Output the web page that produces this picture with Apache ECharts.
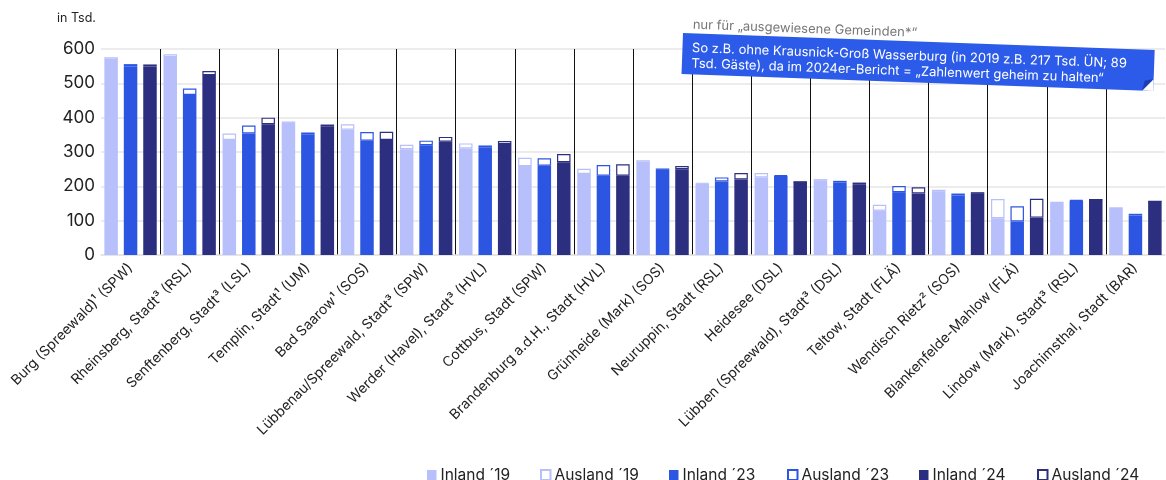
<!DOCTYPE html>
<html><head><meta charset="utf-8">
<script src="https://cdn.jsdelivr.net/npm/echarts@6/dist/echarts.min.js"></script>
<style>html,body{margin:0;padding:0;background:#fff}#c{width:1166px;height:480px}</style>
</head><body><div id="c"></div>
<script>
const categories = [
  "Burg (Spreewald)¹ (SPW)", "Rheinsberg, Stadt³ (RSL)", "Senftenberg, Stadt³ (LSL)", "Templin, Stadt¹ (UM)",
  "Bad Saarow¹ (SOS)", "Lübbenau/Spreewald, Stadt³ (SPW)", "Werder (Havel), Stadt³ (HVL)", "Cottbus, Stadt (SPW)",
  "Brandenburg a.d.H., Stadt (HVL)", "Grünheide (Mark) (SOS)", "Neuruppin, Stadt (RSL)", "Heidesee (DSL)",
  "Lübben (Spreewald), Stadt³ (DSL)", "Teltow, Stadt (FLÄ)", "Wendisch Rietz² (SOS)", "Blankenfelde-Mahlow (FLÄ)",
  "Lindow (Mark), Stadt³ (RSL)", "Joachimsthal, Stadt (BAR)"
];
const inland19  = [568, 577, 335, 385, 365, 308, 310, 259, 236, 268, 208, 226, 216, 129, 184, 107, 153, 134];
const ausland19 = [8, 8, 19, 4, 16, 13, 15, 24, 15, 8, 2, 13, 5, 17, 6, 56, 1, 5];
const inland23  = [550, 466, 354, 350, 333, 320, 314, 260, 231, 248, 214, 230, 211, 183, 173, 98, 158, 115];
const ausland23 = [6, 19, 23, 7, 25, 13, 5, 22, 31, 4, 12, 2, 5, 18, 6, 44, 2, 5];
const inland24  = [549, 524, 381, 375, 335, 330, 323, 270, 231, 250, 220, 213, 206, 179, 178, 109, 161, 156];
const ausland24 = [6, 12, 19, 5, 24, 14, 9, 24, 33, 9, 19, 0, 5, 18, 5, 55, 0, 0];
const yTicks = [0, 100, 200, 300, 400, 500, 600];
const legendNames = ['Inland ´19', 'Ausland ´19', 'Inland ´23', 'Ausland ´23', 'Inland ´24', 'Ausland ´24'];

const FONT = 'Inter, "Noto Sans", sans-serif';
const C19 = '#b8c0fc', C23 = '#2c55e2', C24 = '#2c2f80';

function inl(name, data, stack, color) {
  return { name, type: 'bar', stack, data, barWidth: 13.5, barGap: '44%',
    itemStyle: { color }, emphasis: { disabled: true } };
}
function aus(name, data, stack, color) {
  return { name, type: 'bar', stack, data, barWidth: 13.5, barGap: '44%',
    itemStyle: { color: '#ffffff', borderColor: color, borderWidth: 1.2 }, emphasis: { disabled: true } };
}

const legendLeft = [427, 540, 669, 787, 919, 1037];
const legends = legendNames.map((n, i) => ({
  left: legendLeft[i], top: 467, padding: 0, itemWidth: 9.5, itemHeight: 10, icon: 'rect',
  textStyle: { fontSize: 15.5, color: '#222', fontFamily: FONT, padding: [0, 0, 0, -1] },
  data: [n]
}));

const chart = echarts.init(document.getElementById('c'), null, { renderer: 'canvas' });
chart.setOption({
  animation: false,
  textStyle: { fontFamily: FONT },
  grid: { left: 101, right: 1, top: 49, bottom: 225 },
  xAxis: {
    type: 'category', data: categories,
    axisLine: { show: true, lineStyle: { color: '#e2e2e2', width: 1.5 } },
    axisTick: { show: false },
    axisLabel: { rotate: 45, interval: 0, fontSize: 14, color: '#222', margin: 11, fontFamily: FONT },
    splitLine: { show: true, showMinLine: false, showMaxLine: false, lineStyle: { color: '#111', width: 1 } }
  },
  yAxis: {
    type: 'value', min: yTicks[0], max: yTicks[yTicks.length - 1], interval: 100,
    axisLine: { show: false }, axisTick: { show: false },
    axisLabel: { fontSize: 17, color: '#222', margin: 6, fontFamily: FONT },
    splitLine: { lineStyle: { color: '#e6e6e6', width: 1.5 } }
  },
  legend: legends,
  graphic: [
    { type: 'text', left: 57, top: 12, style: { text: 'in Tsd.', fontSize: 12.5, fill: '#222', fontFamily: FONT } },
    { type: 'group', x: 683, y: 33, rotation: -0.036, z: 100,
      children: [
        { type: 'text', x: 9.5, y: -15, z: 100, style: { text: 'nur für „ausgewiesene Gemeinden*“', fontSize: 13, fill: '#777', fontFamily: FONT } },
        { type: 'rect', z: 100, shape: { x: 0, y: 0, width: 472, height: 41 }, style: { fill: '#2b5be8' } },
        { type: 'polygon', z: 101, shape: { points: [[472, 29], [461, 41], [472, 41]] }, style: { fill: '#ffffff' } },
        { type: 'polygon', z: 101, shape: { points: [[472, 29], [461, 41], [463, 31]] }, style: { fill: '#1f3fb0' } },
        { type: 'text', x: 9.5, y: 7, z: 102, style: {
          text: 'So z.B. ohne Krausnick-Groß Wasserburg (in 2019 z.B. 217 Tsd. ÜN; 89\nTsd. Gäste), da im 2024er-Bericht = „Zahlenwert geheim zu halten“',
          fontSize: 13, lineHeight: 15.5, fill: '#ffffff', fontFamily: FONT } }
      ]
    }
  ],
  series: [
    inl(legendNames[0], inland19, 's19', C19),
    aus(legendNames[1], ausland19, 's19', C19),
    inl(legendNames[2], inland23, 's23', C23),
    aus(legendNames[3], ausland23, 's23', C23),
    inl(legendNames[4], inland24, 's24', C24),
    aus(legendNames[5], ausland24, 's24', C24)
  ]
});
</script></body></html>
